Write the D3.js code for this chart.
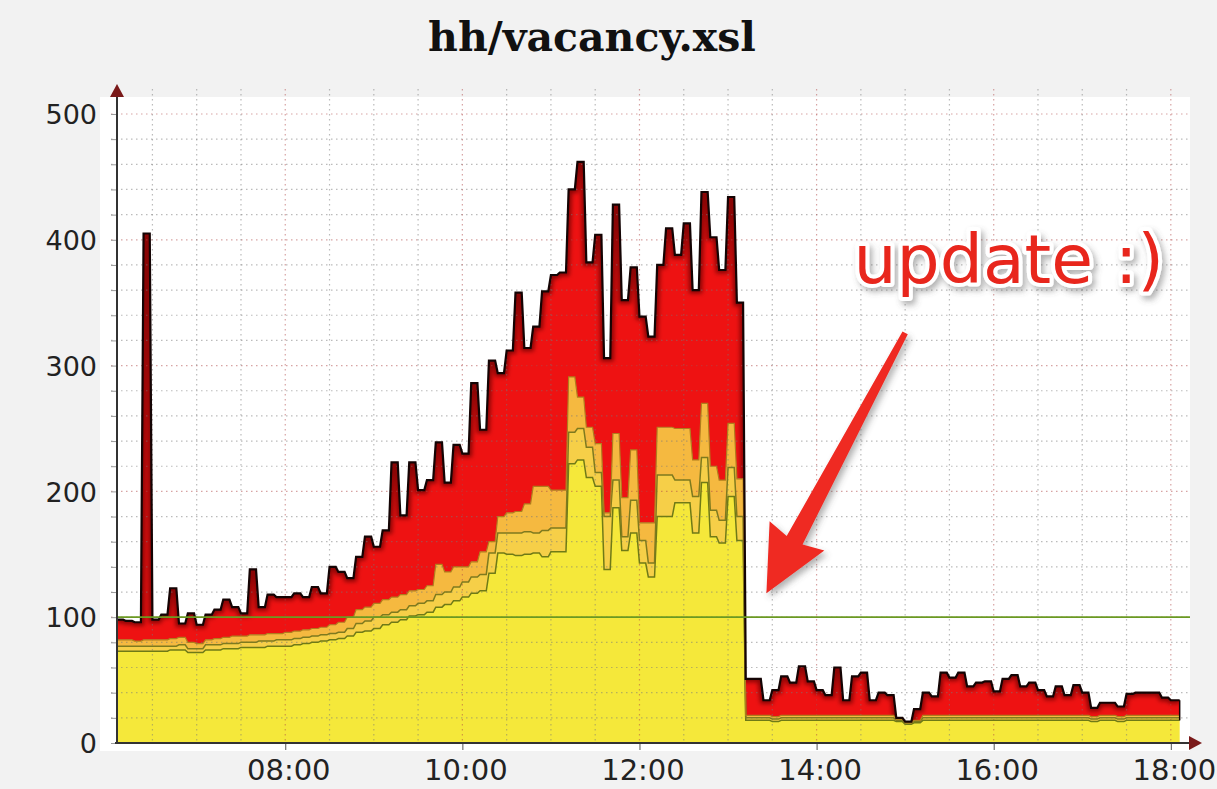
<!DOCTYPE html>
<html>
<head>
<meta charset="utf-8">
<script src="https://cdn.jsdelivr.net/npm/d3@7"></script>
<style>
    body { margin: 0; background: #f2f2f2; }
</style>
</head>
<body>
<svg id="chart"></svg>
<script>
let width = 1217
let height = 789
let fontFamily = "DejaVu Sans"

let title = 'hh/vacancy.xsl'
let start_time = '06:06'
let end_time = '18:13'
let step_minutes = 6
let x_ticks = ['08:00', '10:00', '12:00', '14:00', '16:00', '18:00']
let y_ticks = [0, 100, 200, 300, 400, 500]
let threshold = 100

// stacked boundaries, one value per 6 minutes
let total = [98, 97, 96, 405, 98, 102, 123, 95, 103, 94, 102, 106, 114, 108, 103, 138, 108, 118, 116, 116,
    119, 116, 124, 119, 140, 136, 131, 148, 164, 156, 169, 223, 181, 223, 201, 209, 239, 207, 237, 230,
    286, 249, 304, 294, 312, 358, 314, 331, 359, 372, 374, 440, 462, 382, 404, 306, 428, 352, 378, 339,
    323, 380, 409, 388, 413, 360, 438, 402, 376, 434, 350, 51, 51, 34, 42, 53, 48, 61, 49, 42,
    38, 60, 34, 53, 56, 34, 40, 38, 20, 17, 27, 40, 37, 56, 52, 56, 45, 48, 49, 41,
    51, 54, 45, 48, 42, 37, 45, 38, 46, 40, 28, 32, 32, 29, 39, 40, 40, 40, 36, 34, 34]
let orange_top = [82, 82, 81, 82, 82, 82, 83, 84, 80, 79, 82, 83, 84, 85, 85, 86, 86, 87, 87, 88,
    89, 90, 91, 92, 94, 96, 100, 106, 108, 111, 114, 116, 118, 121, 122, 125, 142, 136, 140, 140,
    144, 152, 160, 180, 183, 184, 190, 204, 204, 201, 201, 291, 275, 251, 238, 183, 246, 195, 233, 175,
    175, 251, 251, 250, 250, 225, 270, 220, 209, 254, 210, 22, 22, 22, 21, 22, 22, 22, 22, 22,
    22, 22, 22, 22, 22, 22, 22, 22, 19, 16, 18, 22, 22, 22, 22, 22, 22, 22, 22, 22,
    22, 22, 22, 22, 22, 22, 22, 22, 22, 22, 21, 22, 22, 21, 22, 22, 22, 22, 22, 22, 22]
let band_top = [77, 77, 77, 77, 77, 77, 77, 78, 75, 75, 78, 78, 79, 79, 80, 80, 81, 81, 82, 82,
    83, 84, 85, 86, 87, 88, 91, 95, 97, 100, 102, 104, 106, 109, 111, 113, 118, 120, 124, 128,
    132, 134, 151, 167, 167, 167, 168, 167, 169, 171, 171, 247, 250, 235, 215, 180, 209, 164, 193, 161,
    143, 213, 213, 209, 209, 196, 227, 185, 177, 219, 180, 20, 20, 20, 19, 20, 20, 20, 20, 20,
    20, 20, 20, 20, 20, 20, 20, 20, 18, 16, 17, 20, 20, 20, 20, 20, 20, 20, 20, 20,
    20, 20, 20, 20, 20, 20, 20, 20, 20, 20, 19, 20, 20, 19, 20, 20, 20, 20, 20, 20, 20]
let yellow_top = [73, 73, 73, 73, 73, 73, 74, 74, 72, 72, 74, 74, 75, 75, 76, 76, 76, 77, 77, 77,
    78, 79, 80, 81, 82, 83, 85, 88, 89, 91, 94, 96, 98, 101, 102, 104, 108, 110, 113, 116,
    119, 121, 135, 151, 150, 149, 150, 151, 148, 152, 152, 222, 225, 211, 204, 138, 187, 153, 167, 143,
    132, 180, 180, 191, 191, 167, 207, 164, 159, 196, 161, 18, 18, 18, 17, 18, 18, 18, 18, 18,
    18, 18, 18, 18, 18, 18, 18, 18, 17, 15, 16, 18, 18, 18, 18, 18, 18, 18, 18, 18,
    18, 18, 18, 18, 18, 18, 18, 18, 18, 18, 17, 18, 18, 17, 18, 18, 18, 18, 18, 18, 18]

let note = { text: 'update :)', time: '14:25', value: 366 }
let arrow_from = ['15:00', 326]
let arrow_to = ['13:26', 119]

let parse = d3.timeParse('%H:%M')
let t0 = parse(start_time)
let times = total.map((d, i) => d3.timeMinute.offset(t0, i * step_minutes))
let slant = 0.3

function draw_main() {
    let padding = { 'left': 117, 'right': width - 1190, 'top': 97, 'bottom': height - 743 }
    let svg = d3.select('#chart')
        .attr('width', width)
        .attr('height', height)
        .style('font-family', fontFamily)

    let x = d3.scaleTime()
        .domain([t0, parse(end_time)])
        .range([padding.left, width - padding.right])
    let y = d3.scaleLinear()
        .domain([0, 513.5])
        .range([height - padding.bottom, padding.top])

    // each sample is held, then a short slope to the next one
    let pts = []
    times.forEach((t, i) => {
        pts.push({ i: i, x: x(t) })
        if (i < times.length - 1) {
            let x1 = x(times[i + 1])
            pts.push({ i: i, x: x1 - slant * (x1 - x(t)) })
        }
    })

    let defs = svg.append('defs')
    let shadow = defs.append('filter').attr('id', 'shadow')
        .attr('x', '-20%').attr('y', '-20%').attr('width', '140%').attr('height', '140%')
    shadow.append('feDropShadow')
        .attr('dx', 3).attr('dy', 4).attr('stdDeviation', 3)
        .attr('flood-color', '#555').attr('flood-opacity', 0.45)
    defs.append('filter').attr('id', 'blur')
        .append('feGaussianBlur').attr('stdDeviation', 2.2)

    // title
    svg.append('text')
        .attr('x', 592)
        .attr('y', 51)
        .attr('text-anchor', 'middle')
        .attr('font-family', 'DejaVu Serif')
        .attr('font-weight', 'bold')
        .attr('font-size', 41)
        .attr('fill', '#111')
        .text(title)

    // plot background
    svg.append('rect')
        .attr('x', padding.left - 17)
        .attr('y', padding.top)
        .attr('width', width - padding.right - padding.left + 17)
        .attr('height', height - padding.bottom - padding.top + 8)
        .attr('fill', '#fff')

    // stacked areas
    let layers = [
        { top: yellow_top, bottom: null, fill: '#f5e83a', stroke: '#6f7a16', sw: 1.5 },
        { top: band_top, bottom: yellow_top, fill: '#f6cf48', stroke: '#7e7a1e', sw: 1.5 },
        { top: orange_top, bottom: band_top, fill: '#f5b940', stroke: '#b07d1c', sw: 1.2 },
        { top: total, bottom: orange_top, fill: '#ee1212', stroke: '#140404', sw: 2.2 }
    ]
    layers.forEach(l => {
        let area = d3.area()
            .x(p => p.x)
            .y0(p => y(l.bottom ? l.bottom[p.i] : 0))
            .y1(p => y(l.top[p.i]))
        svg.append('path')
            .datum(pts)
            .attr('d', area)
            .attr('fill', l.fill)
    })

    // dark inner edge under the total outline
    let total_area = d3.area()
        .x(p => p.x)
        .y0(p => y(orange_top[p.i]))
        .y1(p => y(total[p.i]))
    defs.append('clipPath').attr('id', 'red_clip')
        .append('path').datum(pts).attr('d', total_area)
    let total_line = d3.line()
        .x(p => p.x)
        .y(p => y(total[p.i]))
    svg.append('path')
        .datum(pts)
        .attr('d', total_line)
        .attr('fill', 'none')
        .attr('stroke', '#6a0000')
        .attr('stroke-width', 7)
        .attr('stroke-opacity', 0.75)
        .attr('filter', 'url(#blur)')
        .attr('clip-path', 'url(#red_clip)')

    // grid, drawn over the areas
    let grid = svg.append('g')
    let h_lines = d3.range(20, 501, 20)
    grid.selectAll('.hgrid')
        .data(h_lines)
        .enter().append('line')
        .attr('x1', padding.left - 6)
        .attr('x2', width - padding.right)
        .attr('y1', d => y(d))
        .attr('y2', d => y(d))
        .attr('stroke', d => d % 100 == 0 ? '#b04848' : '#777')
        .attr('stroke-opacity', 0.5)
        .attr('stroke-width', 1.2)
        .attr('stroke-dasharray', '1.5,3.5')
    let v_lines = d3.timeMinute.every(30).range(parse('06:30'), parse('18:01'))
    grid.selectAll('.vgrid')
        .data(v_lines)
        .enter().append('line')
        .attr('x1', d => x(d))
        .attr('x2', d => x(d))
        .attr('y1', padding.top - 8)
        .attr('y2', height - padding.bottom)
        .attr('stroke', d => d.getMinutes() == 0 && d.getHours() % 2 == 0 ? '#b04848' : '#777')
        .attr('stroke-opacity', 0.5)
        .attr('stroke-width', 1.2)
        .attr('stroke-dasharray', '1.5,3.5')

    layers.forEach(l => {
        let line = d3.line()
            .x(p => p.x)
            .y(p => y(l.top[p.i]))
        svg.append('path')
            .datum(pts)
            .attr('d', line)
            .attr('fill', 'none')
            .attr('stroke', l.stroke)
            .attr('stroke-width', l.sw)
    })
    // right edge of data
    let last = times.length - 1
    svg.append('line')
        .attr('x1', x(times[last])).attr('x2', x(times[last]))
        .attr('y1', y(total[last])).attr('y2', y(yellow_top[last]))
        .attr('stroke', '#140404').attr('stroke-width', 1.5)

    // threshold
    svg.append('line')
        .attr('x1', padding.left)
        .attr('x2', width - padding.right)
        .attr('y1', y(threshold))
        .attr('y2', y(threshold))
        .attr('stroke', '#6a9a22')
        .attr('stroke-width', 1.8)

    // y axis
    let axis_y = d3.axisLeft(y)
        .tickValues(d3.range(0, 501, 20))
        .tickSize(6)
        .tickFormat(d => y_ticks.includes(d) ? d : '')
    let gy = svg.append('g')
        .attr('transform', `translate(${padding.left}, 0)`)
        .call(axis_y)
        .attr('font-family', fontFamily)
        .attr('font-size', 27)
    gy.select('.domain').remove()
    gy.selectAll('.tick line').attr('stroke', '#999')
    gy.selectAll('.tick text').attr('fill', '#222').attr('x', -20).attr('dy', '0.36em')
    svg.append('line')
        .attr('x1', padding.left).attr('x2', padding.left)
        .attr('y1', height - padding.bottom).attr('y2', padding.top - 6)
        .attr('stroke', '#333').attr('stroke-width', 2)
    svg.append('path')
        .attr('d', `M${padding.left - 7},${padding.top}L${padding.left},${padding.top - 13}L${padding.left + 7},${padding.top}Z`)
        .attr('fill', '#7a1a1a')

    // x axis
    let axis_x = d3.axisBottom(x)
        .tickValues(x_ticks.map(parse))
        .tickSize(7)
        .tickFormat(d3.timeFormat('%H:%M'))
    let gx = svg.append('g')
        .attr('transform', `translate(0, ${height - padding.bottom})`)
        .call(axis_x)
        .attr('font-family', fontFamily)
        .attr('font-size', 29)
    gx.select('.domain').remove()
    gx.selectAll('.tick line').attr('stroke', '#555')
    gx.selectAll('.tick text').attr('fill', '#222').attr('dy', '0.94em').attr('dx', 3)
    svg.append('line')
        .attr('x1', padding.left - 2).attr('x2', width - padding.right + 4)
        .attr('y1', height - padding.bottom).attr('y2', height - padding.bottom)
        .attr('stroke', '#333').attr('stroke-width', 2)
    let ax = width - padding.right
    let ay = height - padding.bottom
    svg.append('path')
        .attr('d', `M${ax - 1},${ay - 7}L${ax + 12},${ay}L${ax - 1},${ay + 7}Z`)
        .attr('fill', '#7a1a1a')

    // annotation arrow
    let sx = x(parse(arrow_from[0])), sy = y(arrow_from[1])
    let tx = x(parse(arrow_to[0])), ty = y(arrow_to[1])
    let len = Math.hypot(tx - sx, ty - sy)
    let ux = (tx - sx) / len, uy = (ty - sy) / len
    let nx = -uy, ny = ux
    let jx = tx - ux * 60, jy = ty - uy * 60
    let shape = [
        [sx + nx * 3, sy + ny * 3],
        [jx + nx * 9, jy + ny * 9],
        [jx + nx * 31 - ux * 5, jy + ny * 31 - uy * 5],
        [tx, ty],
        [jx - nx * 31 - ux * 5, jy - ny * 31 - uy * 5],
        [jx - nx * 9, jy - ny * 9],
        [sx - nx * 3, sy - ny * 3]
    ]
    svg.append('path')
        .attr('d', 'M' + shape.map(p => p.join(',')).join('L') + 'Z')
        .attr('fill', '#ef2a22')
        .attr('filter', 'url(#shadow)')

    svg.append('text')
        .attr('x', x(parse(note.time)))
        .attr('y', y(note.value))
        .attr('font-family', fontFamily)
        .attr('font-size', 68)
        .attr('fill', '#e8251f')
        .attr('stroke', '#fff')
        .attr('stroke-width', 8)
        .attr('stroke-linejoin', 'round')
        .attr('paint-order', 'stroke')
        .attr('filter', 'url(#shadow)')
        .text(note.text)
}

draw_main()
</script>
</body>
</html>
